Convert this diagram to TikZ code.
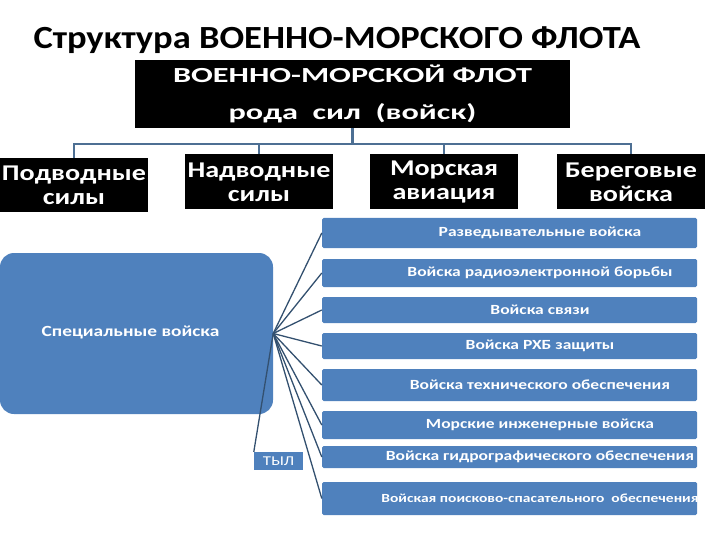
\documentclass[tikz,border=0pt]{standalone}
\usepackage{fontspec}
\setmainfont{Carlito}
\newfontfamily\titlefont{Carlito}[FakeStretch=1.13]
\newfontfamily\widefont{Carlito}[FakeStretch=1.5]
\newfontfamily\midfont{Carlito}[FakeStretch=1.25]
\usepackage{xcolor}
\definecolor{officeblue}{HTML}{4F81BD}
\definecolor{wire}{HTML}{33506F}
\definecolor{treeline}{HTML}{4D6F93}
\tikzset{>=latex,
    force/.style={fill=black, text=white, inner sep=0pt, align=center,
      font=\midfont\bfseries\fontsize{22.5}{24}\selectfont},
    unit/.style={fill=officeblue, rounded corners=1.5pt, minimum width=375pt, inner sep=0pt},
    unitlabel/.style={text=white, xshift=30.5pt, font=\midfont\bfseries\fontsize{14}{16}\selectfont},
    fan/.style={draw=wire, line width=1.3pt},
    tree/.style={draw=treeline, line width=2.5pt}}

\begin{document}
\begin{tikzpicture}[x=1pt, y=-1pt]
  \useasboundingbox (0,0) rectangle (720,540);
  \node[font=\titlefont\bfseries\fontsize{32.3}{36}\selectfont] (title) at (337,40) {Структура ВОЕННО-МОРСКОГО ФЛОТА};

  % branches of the fleet
  \node[force, minimum width=435pt, minimum height=68pt, font=\widefont\bfseries\fontsize{21.5}{37}\selectfont] (fleet) at (352.5,94)
    {ВОЕННО-МОРСКОЙ ФЛОТ\\рода\ \ сил\ \ (войск)};
  \node[force, minimum width=148pt, minimum height=54pt] (sub) at (74,185) {Подводные\\силы};
  \node[force, minimum width=148pt, minimum height=55pt] (surf) at (259,182) {Надводные\\силы};
  \node[force, minimum width=148pt, minimum height=55pt] (air) at (444,182) {Морская\\авиация};
  \node[force, minimum width=148pt, minimum height=55pt] (coast) at (631,182) {Береговые\\войска};
  \coordinate (fork) at (352.5,144);
  \draw[tree] (fleet.south) -- (fork);
  \foreach \b in {sub, surf, air, coast}
    \draw[tree] (fork) -| (\b.north);

  % special troops
  \node[fill=officeblue, rounded corners=14pt, minimum width=273pt, minimum height=161pt] (special) at (136.5,333.5) {};
  \node[text=white, font=\midfont\bfseries\fontsize{15.5}{19}\selectfont] (specialtext) at (130.5,332) {Специальные войска};
  \foreach \n/\y/\h/\txt in {1/233/30/Разведывательные войска,
      2/273/28/Войска радиоэлектронной борьбы,
      3/310/26/Войска связи,
      4/346/26/Войска РХБ защиты,
      5/385/32/Войска технического обеспечения,
      6/425/28/Морские инженерные войска,
      7/457/22/Войска гидрографического обеспечения} {
    \node[unit, minimum height=\h pt, label={[unitlabel]center:\txt}] (u\n) at (509.5,\y) {};
    \draw[fan] (special.east) -- (u\n.west);
  }
  \node[unit, minimum height=33pt,
    label={[unitlabel, font=\midfont\bfseries\fontsize{12.4}{14}\selectfont]center:Войская поисково-спасательного\ \ обеспечения}] (u8) at (509.5,498.5) {};
  \draw[fan] (special.east) -- (u8.west);
  \node[fill=officeblue, minimum width=49pt, minimum height=18pt, inner sep=0pt,
    text=white, font=\midfont\fontsize{13.5}{16}\selectfont] (rear) at (278.5,461) {ТЫЛ};
  \draw[fan] (special.east) -- (rear.north west);
\end{tikzpicture}
\end{document}
